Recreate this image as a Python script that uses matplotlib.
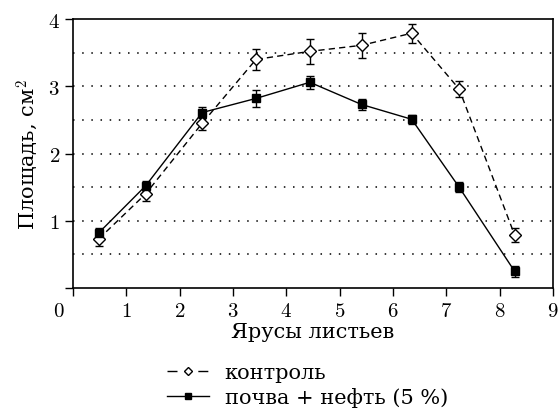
import matplotlib
matplotlib.use('Agg')
import matplotlib.pyplot as plt
from matplotlib.lines import Line2D

# leaf tiers (x positions)
tiers = [0.48, 1.36, 2.42, 3.43, 4.44, 5.41, 6.35, 7.24, 8.28]

control = [0.73, 1.40, 2.45, 3.40, 3.52, 3.61, 3.79, 2.96, 0.79]
control_err = [0.10, 0.10, 0.10, 0.15, 0.19, 0.19, 0.14, 0.12, 0.11]

oil = [0.82, 1.52, 2.61, 2.82, 3.06, 2.73, 2.51, 1.50, 0.25]
oil_err = [0.08, 0.07, 0.08, 0.13, 0.10, 0.08, 0.07, 0.07, 0.08]

xticks = [0, 1, 2, 3, 4, 5, 6, 7, 8, 9]
yticks = [0, 1, 2, 3, 4]
grid_levels = [0.5, 1, 1.5, 2, 2.5, 3, 3.5]

plt.rcParams['font.family'] = ['DejaVu Serif']
plt.rcParams['mathtext.fontset'] = 'cm'

fig = plt.figure(figsize=(5.58, 4.10), dpi=100)
ax = fig.add_axes([0.131, 0.295, 0.860, 0.656])

for g in grid_levels:
    ax.axhline(g, color='black', lw=1.1, ls=(0, (1, 5)), zorder=0)

ax.errorbar(tiers, control, yerr=control_err, color='black', lw=1.0,
            ls=(0, (4.5, 3)), marker='D', ms=6.3, mfc='white', mec='black',
            mew=1.0, capsize=2.8, elinewidth=1.0, capthick=1.0, zorder=3)
ax.errorbar(tiers, oil, yerr=oil_err, color='black', lw=1.0, ls='-',
            marker='s', ms=6, mfc='black', mec='black',
            capsize=2.8, elinewidth=1.0, capthick=1.0, zorder=3)

ax.set_xlim(0, 9)
ax.set_ylim(0, 4)
ax.set_xticks(xticks)
ax.set_xticklabels([''] + ['$%d$' % t for t in xticks[1:]], fontsize=15)
ax.set_yticks(yticks)
ax.set_yticklabels([''] + ['$%d$' % t for t in yticks[1:]], fontsize=15)
ax.tick_params(direction='out', length=5.5, width=1.0, pad=4)
for s in ax.spines.values():
    s.set_linewidth(1.2)

# shared origin label
ax.text(-0.030, -0.082, '$0$', transform=ax.transAxes, fontsize=15,
        ha='center', va='center')

ax.set_xlabel('Ярусы листьев', fontsize=15, labelpad=1)
ax.set_ylabel('Площадь, см$^2$', fontsize=15, labelpad=5)

handles = [
    Line2D([], [], color='black', lw=1.0, ls=(0, (7.2, 15)), marker='D',
           ms=4.3, mfc='white', mec='black', mew=1.0),
    Line2D([], [], color='black', lw=1.0, ls='-', marker='s', ms=5,
           mfc='black', mec='black'),
]
labels = ['контроль', 'почва + нефть (5 %)']
fig.legend(handles, labels, loc='upper left', bbox_to_anchor=(0.300, 0.112),
           frameon=False, fontsize=15, handlelength=2.0, handletextpad=0.75,
           labelspacing=0.25, borderpad=0.0, borderaxespad=0.0)

fig.savefig('out.png', dpi=100)
